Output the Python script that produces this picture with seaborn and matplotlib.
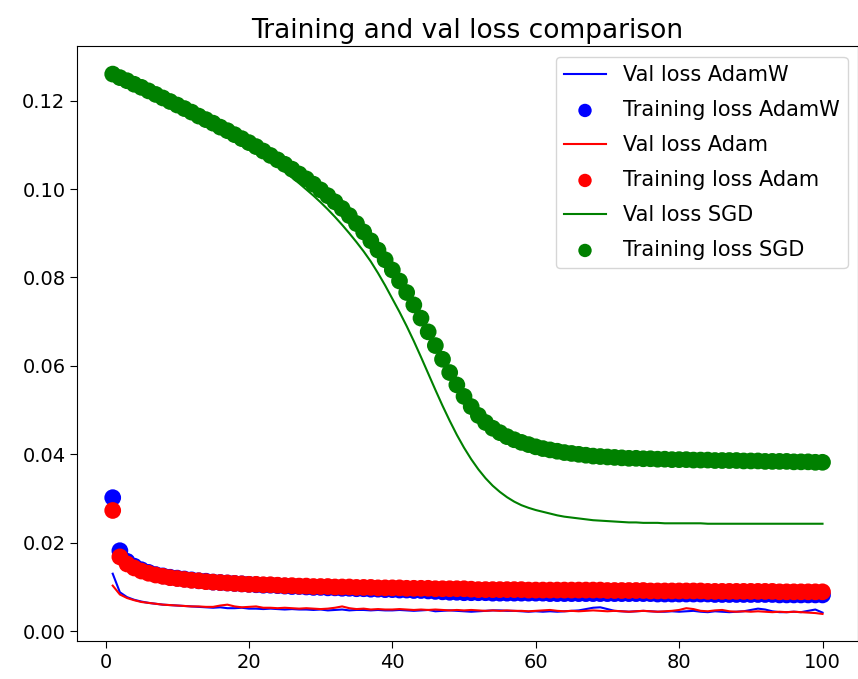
import seaborn as sns
import matplotlib.pyplot as plt

epochs = list(range(1, 101))

train_adamw = [
    0.0302, 0.0182, 0.0158, 0.0147, 0.0139, 0.0133, 0.0128, 0.0125, 0.0122, 0.0120,
    0.0118, 0.0116, 0.0114, 0.0113, 0.0111, 0.0110, 0.0109, 0.0108, 0.0107, 0.0106,
    0.0105, 0.0104, 0.0104, 0.0103, 0.0102, 0.0101, 0.0101, 0.0100, 0.0099, 0.0099,
    0.0098, 0.0098, 0.0097, 0.0097, 0.0096, 0.0096, 0.0095, 0.0095, 0.0094, 0.0094,
    0.0093, 0.0093, 0.0092, 0.0092, 0.0091, 0.0090, 0.0089, 0.0088, 0.0088, 0.0087,
    0.0087, 0.0087, 0.0087, 0.0086, 0.0086, 0.0086, 0.0086, 0.0086, 0.0086, 0.0086,
    0.0086, 0.0085, 0.0085, 0.0085, 0.0085, 0.0085, 0.0085, 0.0085, 0.0085, 0.0085,
    0.0085, 0.0085, 0.0085, 0.0085, 0.0085, 0.0085, 0.0084, 0.0084, 0.0084, 0.0084,
    0.0084, 0.0084, 0.0084, 0.0084, 0.0083, 0.0083, 0.0083, 0.0083, 0.0083, 0.0083,
    0.0083, 0.0083, 0.0083, 0.0082, 0.0082, 0.0082, 0.0082, 0.0082, 0.0082, 0.0082,
]
val_adamw = [
    0.0130, 0.0088, 0.0077, 0.0071, 0.0067, 0.0064, 0.0062, 0.0060, 0.0059, 0.0058,
    0.0057, 0.0056, 0.0055, 0.0054, 0.0053, 0.0054, 0.0052, 0.0052, 0.0053, 0.0051,
    0.0051, 0.0050, 0.0051, 0.0050, 0.0049, 0.0050, 0.0049, 0.0049, 0.0048, 0.0049,
    0.0047, 0.0048, 0.0049, 0.0047, 0.0048, 0.0048, 0.0047, 0.0048, 0.0047, 0.0047,
    0.0048, 0.0047, 0.0046, 0.0047, 0.0048, 0.0045, 0.0046, 0.0047, 0.0046, 0.0045,
    0.0044, 0.0045, 0.0046, 0.0047, 0.0047, 0.0046, 0.0046, 0.0045, 0.0044, 0.0045,
    0.0044, 0.0045, 0.0044, 0.0045, 0.0046, 0.0047, 0.0050, 0.0053, 0.0054, 0.0050,
    0.0046, 0.0045, 0.0044, 0.0045, 0.0046, 0.0045, 0.0044, 0.0044, 0.0045, 0.0044,
    0.0045, 0.0046, 0.0044, 0.0043, 0.0045, 0.0044, 0.0043, 0.0044, 0.0045, 0.0048,
    0.0051, 0.0049, 0.0045, 0.0043, 0.0043, 0.0044, 0.0043, 0.0046, 0.0049, 0.0042,
]

train_adam = [
    0.0273, 0.0168, 0.0152, 0.0143, 0.0136, 0.0131, 0.0127, 0.0124, 0.0121, 0.0119,
    0.0117, 0.0115, 0.0114, 0.0112, 0.0111, 0.0110, 0.0109, 0.0108, 0.0107, 0.0106,
    0.0106, 0.0105, 0.0105, 0.0104, 0.0103, 0.0103, 0.0102, 0.0102, 0.0101, 0.0101,
    0.0101, 0.0100, 0.0100, 0.0100, 0.0099, 0.0099, 0.0099, 0.0098, 0.0098, 0.0098,
    0.0098, 0.0097, 0.0097, 0.0097, 0.0097, 0.0096, 0.0096, 0.0096, 0.0096, 0.0096,
    0.0095, 0.0094, 0.0094, 0.0094, 0.0094, 0.0094, 0.0094, 0.0094, 0.0093, 0.0093,
    0.0093, 0.0093, 0.0093, 0.0093, 0.0093, 0.0093, 0.0093, 0.0093, 0.0093, 0.0092,
    0.0092, 0.0092, 0.0092, 0.0092, 0.0092, 0.0091, 0.0091, 0.0091, 0.0091, 0.0091,
    0.0091, 0.0091, 0.0091, 0.0090, 0.0090, 0.0090, 0.0090, 0.0090, 0.0090, 0.0090,
    0.0090, 0.0090, 0.0090, 0.0089, 0.0089, 0.0089, 0.0089, 0.0089, 0.0089, 0.0089,
]
val_adam = [
    0.0103, 0.0083, 0.0075, 0.0070, 0.0066, 0.0064, 0.0062, 0.0060, 0.0059, 0.0058,
    0.0057, 0.0056, 0.0056, 0.0055, 0.0055, 0.0058, 0.0060, 0.0056, 0.0054, 0.0055,
    0.0056, 0.0053, 0.0053, 0.0052, 0.0053, 0.0052, 0.0051, 0.0052, 0.0051, 0.0050,
    0.0051, 0.0053, 0.0056, 0.0052, 0.0050, 0.0051, 0.0049, 0.0050, 0.0049, 0.0049,
    0.0050, 0.0049, 0.0048, 0.0049, 0.0048, 0.0049, 0.0048, 0.0047, 0.0048, 0.0047,
    0.0048, 0.0047, 0.0046, 0.0047, 0.0046, 0.0047, 0.0046, 0.0046, 0.0045, 0.0046,
    0.0047, 0.0048, 0.0046, 0.0045, 0.0046, 0.0045, 0.0046, 0.0047, 0.0046, 0.0045,
    0.0046, 0.0045, 0.0044, 0.0045, 0.0046, 0.0045, 0.0044, 0.0045, 0.0046, 0.0048,
    0.0052, 0.0050, 0.0046, 0.0045, 0.0047, 0.0048, 0.0045, 0.0044, 0.0045, 0.0044,
    0.0045, 0.0044, 0.0043, 0.0044, 0.0043, 0.0044, 0.0043, 0.0042, 0.0041, 0.0039,
]

train_sgd = [
    0.1260, 0.1252, 0.1245, 0.1237, 0.1230, 0.1222, 0.1214, 0.1206, 0.1198, 0.1190,
    0.1182, 0.1174, 0.1165, 0.1157, 0.1149, 0.1140, 0.1132, 0.1123, 0.1114, 0.1105,
    0.1096, 0.1086, 0.1076, 0.1066, 0.1056, 0.1045, 0.1034, 0.1023, 0.1011, 0.0998,
    0.0985, 0.0971, 0.0956, 0.0940, 0.0922, 0.0903, 0.0883, 0.0862, 0.0840, 0.0817,
    0.0792, 0.0766, 0.0738, 0.0708, 0.0677, 0.0646, 0.0615, 0.0585, 0.0557, 0.0531,
    0.0508, 0.0488, 0.0472, 0.0459, 0.0449, 0.0440, 0.0433, 0.0427, 0.0422, 0.0417,
    0.0413, 0.0410, 0.0407, 0.0404, 0.0402, 0.0400, 0.0398, 0.0396, 0.0395, 0.0394,
    0.0393, 0.0392, 0.0391, 0.0391, 0.0390, 0.0390, 0.0389, 0.0389, 0.0388, 0.0388,
    0.0388, 0.0387, 0.0387, 0.0387, 0.0386, 0.0386, 0.0386, 0.0386, 0.0385, 0.0385,
    0.0385, 0.0384, 0.0384, 0.0384, 0.0384, 0.0383, 0.0383, 0.0383, 0.0382, 0.0382,
]
val_sgd = [
    0.1262, 0.1254, 0.1246, 0.1238, 0.1230, 0.1222, 0.1214, 0.1206, 0.1197, 0.1189,
    0.1180, 0.1172, 0.1163, 0.1154, 0.1145, 0.1136, 0.1126, 0.1116, 0.1106, 0.1096,
    0.1085, 0.1074, 0.1063, 0.1051, 0.1039, 0.1026, 0.1013, 0.0999, 0.0985, 0.0970,
    0.0954, 0.0937, 0.0919, 0.0900, 0.0880, 0.0859, 0.0836, 0.0810, 0.0782, 0.0752,
    0.0722, 0.0690, 0.0656, 0.0620, 0.0583, 0.0546, 0.0510, 0.0476, 0.0444, 0.0415,
    0.0389, 0.0366, 0.0346, 0.0329, 0.0315, 0.0303, 0.0293, 0.0285, 0.0279, 0.0274,
    0.0270, 0.0266, 0.0262, 0.0259, 0.0257, 0.0255, 0.0253, 0.0251, 0.0250, 0.0249,
    0.0248, 0.0247, 0.0246, 0.0246, 0.0245, 0.0245, 0.0245, 0.0244, 0.0244, 0.0244,
    0.0244, 0.0244, 0.0244, 0.0243, 0.0243, 0.0243, 0.0243, 0.0243, 0.0243, 0.0243,
    0.0243, 0.0243, 0.0243, 0.0243, 0.0243, 0.0243, 0.0243, 0.0243, 0.0243, 0.0243,
]

runs = [
    ("AdamW", "blue", val_adamw, train_adamw),
    ("Adam", "red", val_adam, train_adam),
    ("SGD", "green", val_sgd, train_sgd),
]

fig, ax = plt.subplots(figsize=(8.58, 6.79), dpi=100)
fig.subplots_adjust(left=0.09, right=1.0, bottom=0.056, top=0.932)

for name, color, val, train in runs:
    sns.lineplot(x=epochs, y=val, color=color, linewidth=1.5,
                 label=f"Val loss {name}", ax=ax)
    sns.scatterplot(x=epochs, y=train, color=color, s=145, edgecolor="none",
                    label=f"Training loss {name}", ax=ax)

ax.set_title("Training and val loss comparison", fontsize=19)
ax.tick_params(labelsize=14, length=5)
ax.legend(fontsize=15, loc="upper right", markerscale=0.8, labelspacing=0.72)

fig.savefig("out.png", dpi=100)
